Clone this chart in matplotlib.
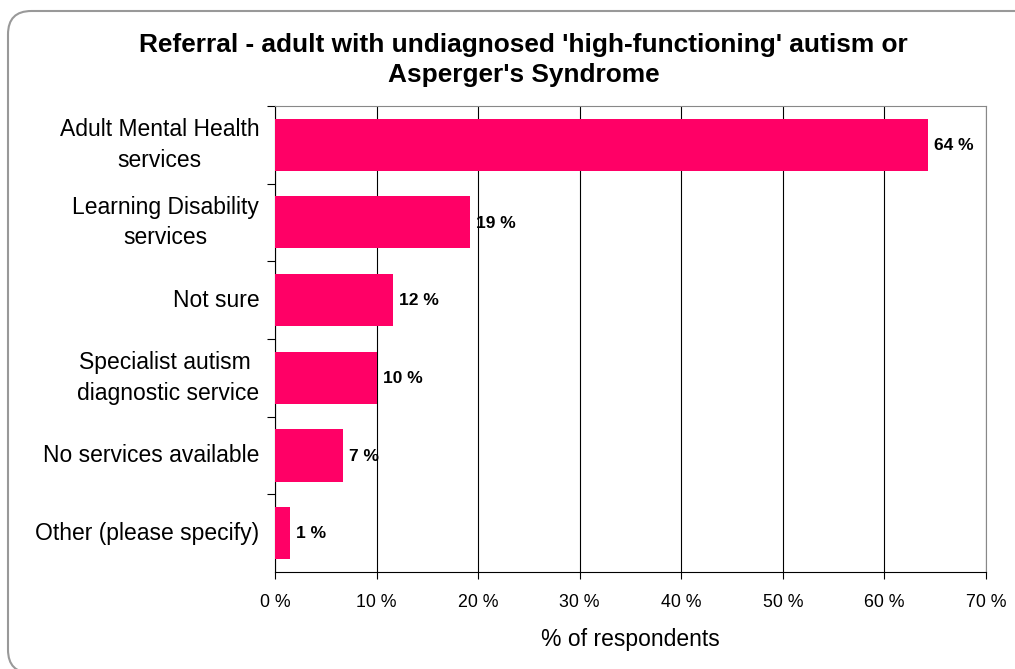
import matplotlib.pyplot as plt
from matplotlib.patches import FancyBboxPatch

plt.rcParams['font.family'] = ['Liberation Sans', 'DejaVu Sans']

categories = ["Adult Mental Health\nservices", "Learning Disability\nservices", "Not sure",
              "Specialist autism \ndiagnostic service", "No services available",
              "Other (please specify)"]
values = [64.3, 19.2, 11.6, 10.0, 6.7, 1.5]
value_labels = ["64 %", "19 %", "12 %", "10 %", "7 %", "1 %"]
xticks = [0, 10, 20, 30, 40, 50, 60, 70]

fig = plt.figure(figsize=(10.15, 6.69), dpi=100)

# rounded frame around the whole chart (runs off the right and bottom edges)
frame = FancyBboxPatch((8 / 1015, -4 / 669), 1040 / 1015, 662 / 669,
                       boxstyle="round,pad=0,rounding_size=0.023",
                       transform=fig.transFigure, fill=False,
                       edgecolor='#999999', linewidth=1.5, mutation_aspect=1015 / 669)
fig.patches.append(frame)

ax = fig.add_axes([0.2709, 0.145, 0.7005, 0.6966])
pos = list(range(len(categories)))
ax.barh(pos, values, height=0.67, color='#FF0066', zorder=3)
ax.set_ylim(len(categories) - 0.5, -0.5)
ax.set_xlim(0, 70)

for y, v, lab in zip(pos, values, value_labels):
    ax.text(v + 0.6, y + 0.01, lab, va='center', ha='left', fontsize=12.5, fontweight='bold', zorder=4)

ax.set_xticks(xticks)
ax.set_xticklabels([f"{t} %" for t in xticks], fontsize=12.8)
ax.xaxis.grid(True, color='black', linewidth=0.8, zorder=0)

# category labels between boundary ticks
ax.set_yticks([p + 0.5 for p in pos[:-1]] + [-0.5])
ax.set_yticklabels([])
ax.tick_params(axis='y', length=6, width=0.8, color='black')
ax.tick_params(axis='x', length=5, width=0.8, color='black', pad=11)
for y, c in zip(pos, categories):
    ax.text(-0.022, y, c, transform=ax.get_yaxis_transform(), ha='right', va='center',
            multialignment='center', fontsize=16.5, linespacing=1.42)

for s in ['top', 'right']:
    ax.spines[s].set_color('#888888')
for s in ['left', 'bottom']:
    ax.spines[s].set_color('black')

ax.set_xlabel('% of respondents', fontsize=16.5, labelpad=12)
fig.text(0.516, 0.91, "Referral - adult with undiagnosed 'high-functioning' autism or\nAsperger's Syndrome",
         ha='center', va='center', fontsize=18.9, fontweight='bold', linespacing=1.3)

fig.savefig('out.png', dpi=100)
